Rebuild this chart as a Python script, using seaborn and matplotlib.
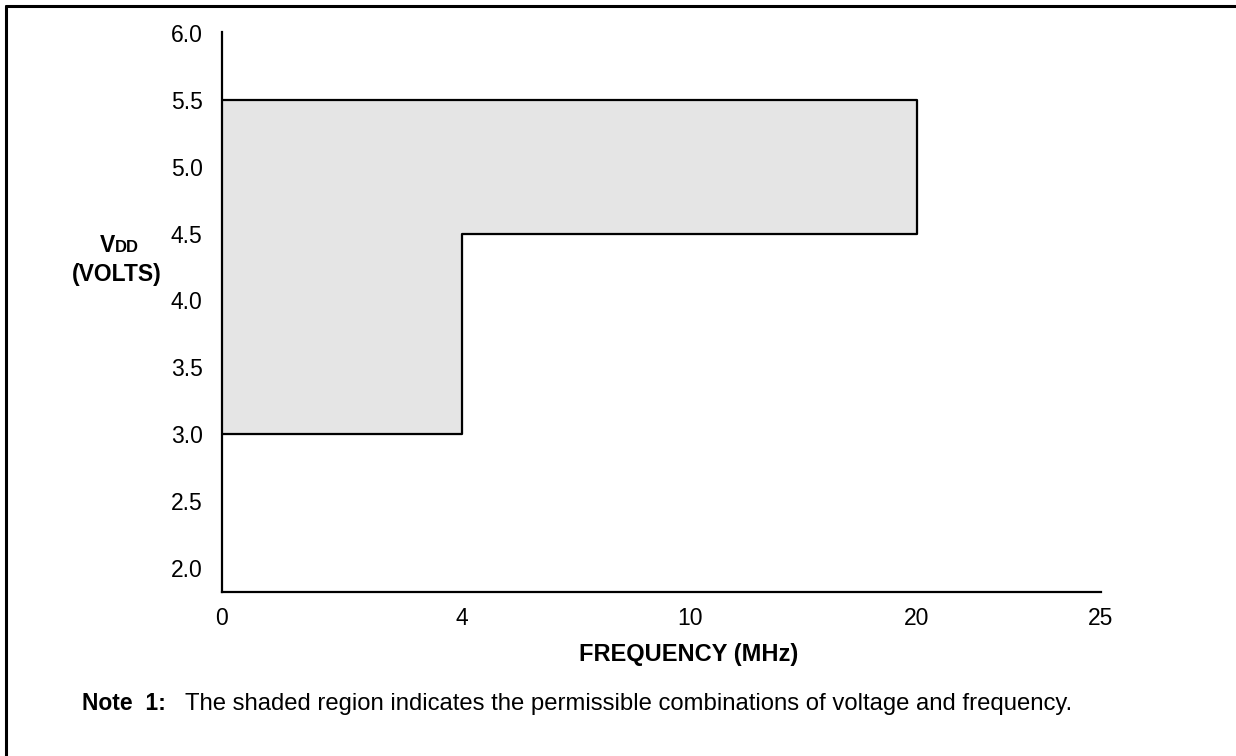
import numpy as np
import pandas as pd
import matplotlib
matplotlib.use("Agg")
import matplotlib.pyplot as plt
import seaborn as sns
from matplotlib.lines import Line2D

# Данные: граница допустимой области (частота, напряжение)
freq_outline = [0, 20, 20, 4, 4, 0]
vdd_outline = [5.5, 5.5, 4.5, 4.5, 3.0, 3.0]

# Подписи осей
x_ticks = [0, 4, 10, 20, 25]
y_ticks = [2.0, 2.5, 3.0, 3.5, 4.0, 4.5, 5.0, 5.5, 6.0]

# Ось X на исходной картинке неравномерная
x_tick_pos = [0, 240, 468, 695, 879]


def fwd(x):
    return np.interp(x, x_ticks, x_tick_pos)


def inv(p):
    return np.interp(p, x_tick_pos, x_ticks)


sns.set_style("white")
plt.rcParams["font.family"] = ["Liberation Sans", "DejaVu Sans"]
plt.rcParams["text.color"] = "black"
plt.rcParams["xtick.color"] = "black"
plt.rcParams["ytick.color"] = "black"

fig = plt.figure(figsize=(12.36, 7.56), dpi=100)
ax = fig.add_axes([222 / 1236, 1 - 592 / 756, (1101 - 222) / 1236, (592 - 32) / 756])

df = pd.DataFrame({"freq": freq_outline, "vdd": vdd_outline})

ax.set_xscale("function", functions=(fwd, inv))
ax.fill(df["freq"], df["vdd"], color="#e5e5e5", zorder=1)
sns.lineplot(data=df, x="freq", y="vdd", sort=False, estimator=None,
             color="black", lw=1.6, ax=ax, zorder=2)

ax.set_xlim(0, 25)
ax.set_ylim(1.82, 6.007)
ax.set_xticks(x_ticks)
ax.set_xticklabels([str(t) for t in x_ticks])
ax.set_yticks(y_ticks)
ax.set_yticklabels([f"{t:.1f}" for t in y_ticks])
ax.tick_params(axis="x", length=0, pad=11, labelsize=16.5, labelcolor="black")
ax.tick_params(axis="y", length=0, pad=14, labelsize=16.5, labelcolor="black")
ax.set_xlabel("")
ax.set_ylabel("")

for side in ["top", "right"]:
    ax.spines[side].set_visible(False)
for side in ["left", "bottom"]:
    ax.spines[side].set_linewidth(1.6)
    ax.spines[side].set_color("black")

# Подписи осей
fig.text(689 / 1236, 1 - 654 / 756, "FREQUENCY (MHz)", ha="center", va="center",
         fontsize=17, fontweight="bold")
fig.text(115 / 1236, 1 - 252 / 756, "V", ha="right", va="baseline",
         fontsize=16.5, fontweight="bold")
fig.text(115 / 1236, 1 - 252 / 756, "DD", ha="left", va="baseline",
         fontsize=12, fontweight="bold")
fig.text(117 / 1236, 1 - 274 / 756, "(VOLTS)", ha="center", va="center",
         fontsize=16.5, fontweight="bold")

# Примечание
fig.text(82 / 1236, 1 - 704 / 756, "Note  1:", ha="left", va="center",
         fontsize=16.5, fontweight="bold")
fig.text(185 / 1236, 1 - 704 / 756,
         "The shaded region indicates the permissible combinations of voltage and frequency.",
         ha="left", va="center", fontsize=17.2)

# Рамка (только верх и левый край видны)
fig.add_artist(Line2D([6 / 1236, 1], [1 - 6 / 756, 1 - 6 / 756],
                      transform=fig.transFigure, color="black", lw=2.2))
fig.add_artist(Line2D([6 / 1236, 6 / 1236], [0, 1 - 6 / 756],
                      transform=fig.transFigure, color="black", lw=2.2))

fig.savefig("out.png", dpi=100)
